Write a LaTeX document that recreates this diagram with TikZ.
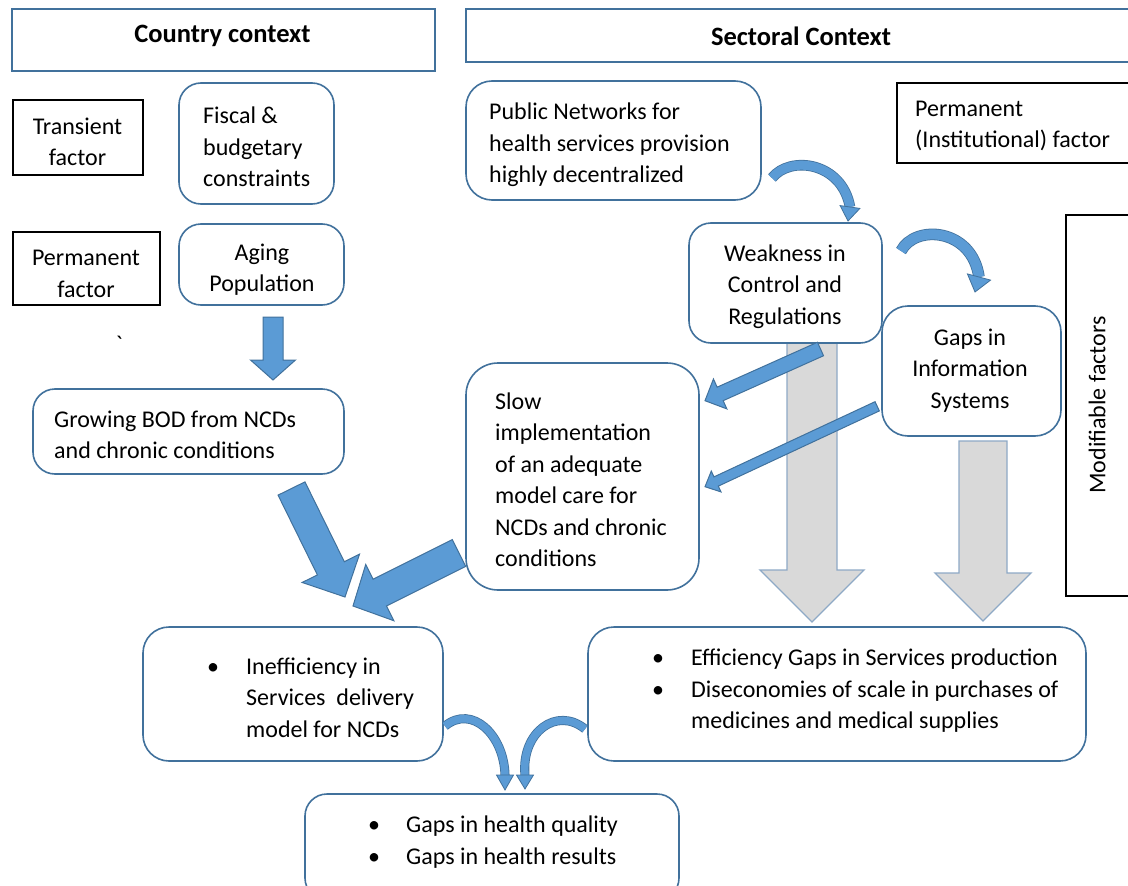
\documentclass[tikz,border=0pt]{standalone}
\usepackage{fontspec}
\setmainfont{Carlito}
\usetikzlibrary{calc}
\definecolor{bdr}{HTML}{41719C}
\definecolor{ablue}{HTML}{5B9BD5}
\definecolor{agrey}{HTML}{D9D9D9}
\definecolor{gbdr}{HTML}{8EA9C6}
\newcommand\fs{\fontsize{24}{31.5}\selectfont}
\newcommand\hfs{\fontsize{26.5}{31.5}\selectfont\bfseries}
% block arrow: style, start, tip, shaft half width, head half width, head length
\newcommand\blockarrow[6]{%
  \coordinate (ba-h) at ($(#3)!#6!(#2)$);
  \draw[#1] ($(#2)!#4!90:(#3)$) -- ($(ba-h)!#4!90:(#3)$) -- ($(ba-h)!#5!90:(#3)$) -- (#3)
    -- ($(ba-h)!#5!-90:(#3)$) -- ($(ba-h)!#4!-90:(#3)$) -- ($(#2)!#4!-90:(#3)$) -- cycle;}
% head of a curved arrow: style, base, tip, half width
\newcommand\curvehead[4]{%
  \draw[#1] ($(#2)!#4!90:(#3)$) -- (#3) -- ($(#2)!#4!-90:(#3)$) -- cycle;}
\begin{document}
\begin{tikzpicture}[x=1pt,y=-1pt,font=\fs,
  rbox/.style={draw=bdr, line width=1.6pt, fill=white, rounded corners=22pt, inner sep=0pt},
  hdrbox/.style={draw=bdr, line width=1.8pt, fill=white, inner sep=0pt},
  kbox/.style={draw=black, line width=2pt, fill=white, inner sep=0pt},
  txt/.style={inner sep=0pt, align=left, anchor=west},
  ctxt/.style={inner sep=0pt, align=center},
  barr/.style={draw=bdr, line width=1pt, fill=ablue, line join=miter},
  garr/.style={draw=gbdr, line width=1.3pt, fill=agrey, line join=miter},
  cband/.style={draw=bdr, line width=0.8pt, double=ablue, double distance=9pt},
  chead/.style={draw=bdr, line width=0.8pt, fill=ablue, line join=miter}]
\useasboundingbox (0,0) rectangle (1128,886);
\clip (0,0) rectangle (1128,886);

% grey arrows (behind boxes)
\coordinate (g1s) at (812,335); \coordinate (g1t) at (812,622);
\coordinate (g2s) at (983,441); \coordinate (g2t) at (983,621);
\blockarrow{garr}{g1s}{g1t}{25pt}{52pt}{52pt}
\blockarrow{garr}{g2s}{g2t}{24pt}{48pt}{48pt}

% boxes
\node[hdrbox, minimum width=423pt, minimum height=62pt] (country) at (223.5,40) {};
\node[hdrbox, minimum width=674pt, minimum height=53pt] (sectoral) at (803,35.5) {};
\node[kbox, minimum width=130pt, minimum height=75pt] (transient) at (78,137.5) {};
\node[kbox, minimum width=147pt, minimum height=73pt] (permanent) at (86.5,268.5) {};
\node[rbox, minimum width=155pt, minimum height=121pt] (fiscal) at (256.5,143.5) {};
\node[rbox, minimum width=165pt, minimum height=81pt] (aging) at (261.5,264.5) {};
\node[rbox, minimum width=311pt, minimum height=85pt] (bod) at (188.5,431.5) {};
\node[rbox, rounded corners=26pt, minimum width=295pt, minimum height=119pt] (public) at (613.5,140.5) {};
\node[kbox, minimum width=243pt, minimum height=80pt] (perminst) at (1018.5,123) {};
\node[rbox, minimum width=193pt, minimum height=120pt] (weak) at (785.5,283) {};
\node[rbox, rounded corners=26pt, minimum width=179pt, minimum height=130pt] (gaps) at (971.5,371) {};
\node[kbox, minimum width=74pt, minimum height=381pt] (modif) at (1103,405.5) {};
\node[rbox, rounded corners=32pt, minimum width=233pt, minimum height=227pt] (slow) at (582.5,476.5) {};
\node[rbox, rounded corners=26pt, minimum width=300pt, minimum height=134pt] (ineff) at (293,694) {};
\node[rbox, rounded corners=26pt, minimum width=498pt, minimum height=134pt] (effic) at (837,694) {};
\node[rbox, minimum width=374pt, minimum height=106pt] (gapsh) at (492,847) {};

% blue block arrows
\coordinate (a1s) at (273,317);     \coordinate (a1t) at (273,380);
\coordinate (a2s) at (291.5,488.5); \coordinate (a2t) at (345,597);
\coordinate (a3s) at (459,553);     \coordinate (a3t) at (353,606);
\coordinate (a4s) at (820.5,349);   \coordinate (a4t) at (705,400.7);
\coordinate (a5s) at (877.2,406.3); \coordinate (a5t) at (705,486.7);
\blockarrow{barr}{a1s}{a1t}{10pt}{22.5pt}{20pt}
\blockarrow{barr}{a2s}{a2t}{15pt}{32pt}{32pt}
\blockarrow{barr}{a3s}{a3t}{15pt}{31.5pt}{30pt}
\blockarrow{barr}{a4s}{a4t}{7.4pt}{16.4pt}{16.6pt}
\blockarrow{barr}{a5s}{a5t}{5.1pt}{11.5pt}{12.3pt}

% curved arrows
\coordinate (c1s) at (772,178); \coordinate (c1b) at (850,207); \coordinate (c1t) at (848,221);
\draw[cband] (c1s) .. controls (790,155) and (842,162) .. (c1b);
\curvehead{chead}{c1b}{c1t}{10pt}
\coordinate (c2s) at (901,251); \coordinate (c2b) at (979,277); \coordinate (c2t) at (975,292);
\draw[cband, double distance=10pt] (c2s) .. controls (915,224) and (972,228) .. (c2b);
\curvehead{chead}{c2b}{c2t}{12pt}
\coordinate (c3s) at (445,726); \coordinate (c3b) at (505,775); \coordinate (c3t) at (505,790);
\draw[cband, double distance=7.5pt] (c3s) .. controls (472,704) and (504,735) .. (c3b);
\curvehead{chead}{c3b}{c3t}{8.5pt}
\coordinate (c4s) at (585,729); \coordinate (c4b) at (525,775); \coordinate (c4t) at (525,789);
\draw[cband, double distance=7.5pt] (c4s) .. controls (557,706) and (521,732) .. (c4b);
\curvehead{chead}{c4b}{c4t}{8.5pt}

% texts
\node[ctxt, font=\hfs] (country-t) at (222.5,36) {Country context};
\node[ctxt, font=\hfs] (sectoral-t) at (801,36) {Sectoral Context};
\node[ctxt] (transient-t) at (77.5,142) {Transient\\factor};
\node[ctxt] (permanent-t) at (86,274) {Permanent\\factor};
\node[txt] (fiscal-t) at (203,147) {Fiscal \&\\budgetary\\constraints};
\node[ctxt] (aging-t) at (262,269.5) {Aging\\Population};
\node[inner sep=0pt, anchor=north] (tick) at (119,336) {\addfontfeature{Ligatures=TeXOff}`};
\node[txt] (bod-t) at (54,435) {Growing BOD from NCDs\\and chronic conditions};
\node[txt] (public-t) at (489,145) {Public Networks for\\health services provision\\highly decentralized};
\node[txt] (perminst-t) at (915,126) {Permanent\\(Institutional) factor};
\node[ctxt] (weak-t) at (785,286.5) {Weakness in\\Control and\\Regulations};
\node[ctxt] (gaps-t) at (970,370.5) {Gaps in\\Information\\Systems};
\node[ctxt, rotate=90] (modif-t) at (1097,405) {Modifiable factors};
\node[txt] (slow-t) at (495,480) {Slow\\implementation\\of an adequate\\model care for\\NCDs and chronic\\conditions};
\node[txt] (ineff-t) at (207,697.5) {\makebox[39pt][l]{\textbullet}Inefficiency in\\\hspace*{39pt}Services\ \ delivery\\\hspace*{39pt}model for NCDs};
\node[txt] (effic-t) at (652,691) {\makebox[39pt][l]{\textbullet}Efficiency Gaps in Services production\\\makebox[39pt][l]{\textbullet}Diseconomies of scale in purchases of\\\hspace*{39pt}medicines and medical supplies};
\node[txt] (gapsh-t) at (368,842) {\makebox[38pt][l]{\textbullet}Gaps in health quality\\\makebox[38pt][l]{\textbullet}Gaps in health results};
\end{tikzpicture}
\end{document}
